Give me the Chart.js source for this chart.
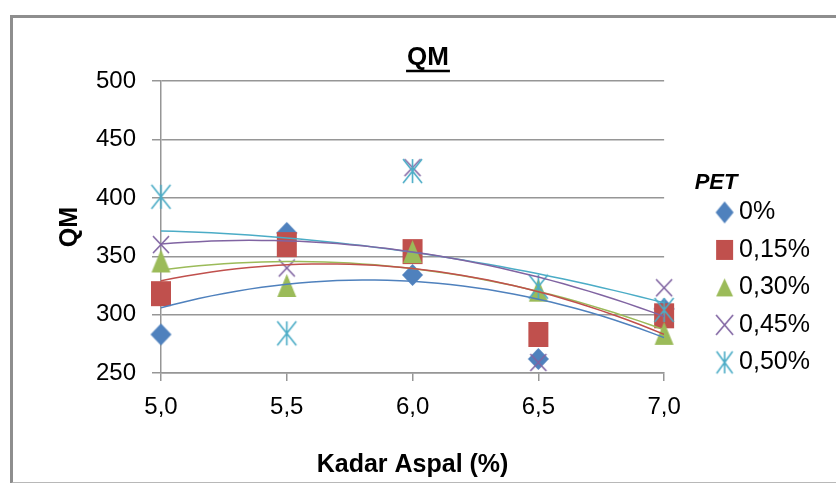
<!DOCTYPE html>
<html lang="id">
<head>
<meta charset="UTF-8">
<title>QM</title>
<script src="https://cdn.jsdelivr.net/npm/chart.js"></script>
<style>
  body { margin: 0; background: #fff; }
  #wrap { position: relative; width: 836px; height: 483px; overflow: hidden; }
  #frame {
    position: absolute; left: 10px; top: 15px; width: 840px; height: 464px;
    border-left: 3px solid #8e8e8e; border-top: 3px solid #8e8e8e; border-bottom: 2px solid #b8b8b8;
    pointer-events: none;
  }
</style>
</head>
<body>
<div id="wrap">
  <canvas id="qmChart" width="836" height="483"></canvas>
  <div id="frame"></div>
</div>
<script>
// data
const kadarAspal = [5.0, 5.5, 6.0, 6.5, 7.0];
const xTickLabels = ['5,0', '5,5', '6,0', '6,5', '7,0'];
const yTicks = [250, 300, 350, 400, 450, 500];
const petLabels = ['0%', '0,15%', '0,30%', '0,45%', '0,50%'];
const qmPet0 = [283, 370, 334, 262, 305];
const qmPet015 = [318, 360, 354, 283, 299];
const qmPet030 = [346, 325, 354, 321, 284];
const qmPet045 = [360, 340, 426, 259, 323];
const qmPet050 = [401, 284, 423, 324, 304];

const FONT = '"Liberation Sans", Arial, sans-serif';
const GRID = '#969696';
const colors = ['#4f81bd', '#c0504d', '#9bbb59', '#8064a2', '#4bacc6'];
const kinds = ['diamond', 'square', 'triangle', 'x', 'asterisk'];
const series = [qmPet0, qmPet015, qmPet030, qmPet045, qmPet050];

// marker sizes (w, h) for plot and legend
const plotSize = { diamond: [21, 22], square: [20, 25], triangle: [19, 23], x: [16, 17], asterisk: [19, 24] };
const legendSize = { diamond: [18, 22], square: [17, 20], triangle: [17, 18], x: [17, 20], asterisk: [16, 22] };
const legendShift = 23;
const padLeft = 36;

function markerCanvas(kind, color, w, h, shift) {
  const c = document.createElement('canvas');
  c.width = Math.ceil(2 * (shift + w / 2 + 2));
  c.height = Math.ceil(h + 4);
  const g = c.getContext('2d');
  const cx = c.width / 2 + shift, cy = c.height / 2;
  g.fillStyle = color;
  g.strokeStyle = color;
  g.lineWidth = 1.6;
  g.beginPath();
  if (kind === 'diamond') {
    g.moveTo(cx, cy - h / 2); g.lineTo(cx + w / 2, cy); g.lineTo(cx, cy + h / 2); g.lineTo(cx - w / 2, cy);
    g.closePath(); g.fill();
  } else if (kind === 'square') {
    g.fillRect(cx - w / 2, cy - h / 2, w, h);
  } else if (kind === 'triangle') {
    g.moveTo(cx, cy - h / 2); g.lineTo(cx + w / 2, cy + h / 2); g.lineTo(cx - w / 2, cy + h / 2);
    g.closePath(); g.fill();
  } else {
    g.moveTo(cx - w / 2, cy - h / 2); g.lineTo(cx + w / 2, cy + h / 2);
    g.moveTo(cx + w / 2, cy - h / 2); g.lineTo(cx - w / 2, cy + h / 2);
    if (kind === 'asterisk') { g.moveTo(cx, cy - h / 2); g.lineTo(cx, cy + h / 2); }
    g.stroke();
  }
  return c;
}

// least squares 2nd order trendline (like the Excel polynomial trendline)
function polyFit2(xs, ys) {
  let s = [0, 0, 0, 0, 0], t = [0, 0, 0];
  xs.forEach((x, i) => {
    for (let k = 0; k < 5; k++) s[k] += Math.pow(x, k);
    for (let k = 0; k < 3; k++) t[k] += ys[i] * Math.pow(x, k);
  });
  const m = [[s[0], s[1], s[2], t[0]], [s[1], s[2], s[3], t[1]], [s[2], s[3], s[4], t[2]]];
  for (let i = 0; i < 3; i++) {
    for (let j = i + 1; j < 3; j++) {
      const f = m[j][i] / m[i][i];
      for (let k = i; k < 4; k++) m[j][k] -= f * m[i][k];
    }
  }
  const c = [0, 0, 0];
  for (let i = 2; i >= 0; i--) {
    let v = m[i][3];
    for (let k = i + 1; k < 3; k++) v -= m[i][k] * c[k];
    c[i] = v / m[i][i];
  }
  return c;
}

function trendPoints(ys) {
  const c = polyFit2(kadarAspal, ys);
  const pts = [];
  for (let i = 0; i <= 40; i++) {
    const x = 5 + i * 0.05;
    pts.push({ x, y: c[0] + c[1] * x + c[2] * x * x });
  }
  return pts;
}

const plotMarkers = kinds.map((k, i) => markerCanvas(k, colors[i], plotSize[k][0], plotSize[k][1], 0));
const legendMarkers = kinds.map((k, i) => markerCanvas(k, colors[i], legendSize[k][0], legendSize[k][1], legendShift));

const datasets = [];
series.forEach((ys, i) => {
  datasets.push({
    label: petLabels[i],
    data: ys.map((y, j) => ({ x: kadarAspal[j], y })),
    pointStyle: plotMarkers[i],
    pointRadius: 10,
    backgroundColor: colors[i],
    borderColor: colors[i],
    showLine: false,
    clip: false,
    order: 10 - i
  });
});
series.forEach((ys, i) => {
  datasets.push({
    label: 'trend ' + petLabels[i],
    data: trendPoints(ys),
    showLine: true,
    pointRadius: 0,
    borderWidth: 1.5,
    borderColor: colors[i],
    tension: 0,
    order: 0
  });
});

const titleUnderline = {
  id: 'titleUnderline',
  afterDraw(chart) {
    const tb = chart.titleBlock;
    const o = chart.options.plugins.title;
    const ctx = chart.ctx;
    ctx.save();
    ctx.font = 'bold ' + o.font.size + 'px ' + FONT;
    const w = ctx.measureText(o.text).width + 2;
    const cx = (tb.left + tb.right) / 2;
    const y = tb.top + o.padding.top + o.font.size * 0.6 + o.font.size * 0.52;
    ctx.strokeStyle = '#000';
    ctx.lineWidth = 2.5;
    ctx.beginPath();
    ctx.moveTo(cx - w / 2, y);
    ctx.lineTo(cx + w / 2, y);
    ctx.stroke();
    ctx.restore();
  }
};

new Chart(document.getElementById('qmChart'), {
  type: 'scatter',
  data: { datasets },
  plugins: [titleUnderline],
  options: {
    responsive: false,
    animation: false,
    layout: { padding: { left: padLeft, right: 16, top: 0, bottom: 0 } },
    plugins: {
      tooltip: { enabled: false },
      title: {
        display: true,
        text: 'QM',
        color: '#000',
        font: { family: FONT, size: 26, weight: 'bold' },
        padding: { top: 42, bottom: 8 }
      },
      legend: {
        position: 'right',
        align: 'start',
        title: {
          display: true,
          text: '     PET',
          color: '#000',
          position: 'start',
          font: { family: FONT, size: 22, weight: 'bold', style: 'italic' },
          padding: { top: 172, bottom: -11 }
        },
        labels: {
          usePointStyle: true,
          pointStyleWidth: 50,
          padding: 12.5,
          color: '#000',
          font: { family: FONT, size: 25 },
          generateLabels: () => petLabels.map((t, i) => ({
            text: t,
            fillStyle: colors[i],
            strokeStyle: colors[i],
            lineWidth: 0,
            pointStyle: legendMarkers[i],
            fontColor: '#000',
            hidden: false,
            datasetIndex: i
          }))
        }
      }
    },
    scales: {
      x: {
        type: 'linear',
        min: 5,
        max: 7,
        afterBuildTicks: (s) => { s.ticks = kadarAspal.map(v => ({ value: v })); },
        afterFit: (s) => { s.height = 110; },
        ticks: {
          autoSkip: false,
          maxRotation: 0,
          padding: 12,
          color: '#000',
          font: { family: FONT, size: 24 },
          callback: (v, i) => xTickLabels[i]
        },
        grid: { drawOnChartArea: false, drawTicks: true, tickLength: 8, color: GRID, lineWidth: 1.5 },
        border: { color: GRID, width: 1.5 },
        title: {
          display: true,
          text: 'Kadar Aspal (%)',
          color: '#000',
          font: { family: FONT, size: 25, weight: 'bold' },
          padding: { top: 0, bottom: 3 }
        }
      },
      y: {
        min: 250,
        max: 500,
        afterBuildTicks: (s) => { s.ticks = yTicks.map(v => ({ value: v })); },
        afterFit: (s) => { s.width = 161 - padLeft; },
        ticks: {
          padding: 16,
          color: '#000',
          font: { family: FONT, size: 24 },
          callback: (v) => String(v)
        },
        grid: { tickLength: 9, color: GRID, lineWidth: 1.5 },
        border: { color: GRID, width: 1.5 },
        title: {
          display: true,
          text: 'QM',
          color: '#000',
          font: { family: FONT, size: 25, weight: 'bold' },
          padding: { top: 55 - padLeft, bottom: 0 }
        }
      }
    }
  }
});
</script>
</body>
</html>
